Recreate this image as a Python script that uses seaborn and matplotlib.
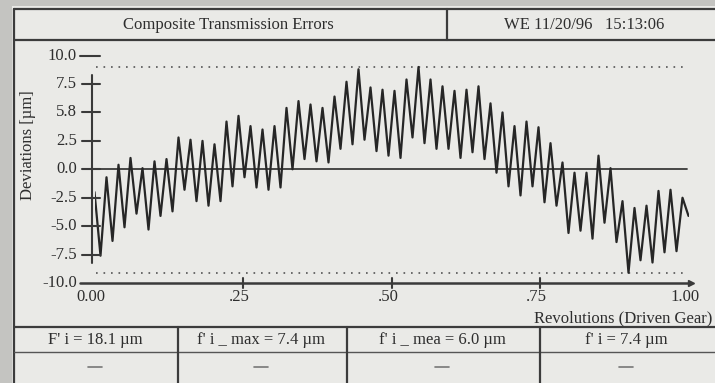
import numpy as np
import pandas as pd
import seaborn as sns
import matplotlib.pyplot as plt

# Peak and trough values of the trace [um]
peaks = [-2.0, -0.7, 0.4, 1.0, 0.1, 0.7, 0.9, 2.8, 2.6, 2.5,
         2.2, 4.2, 4.7, 3.8, 3.5, 3.8, 5.4, 6.0, 5.7, 5.4,
         6.4, 7.7, 8.8, 7.2, 7.0, 6.9, 7.9, 9.0, 7.9, 7.3,
         6.9, 7.0, 7.3, 5.8, 5.0, 3.8, 4.2, 3.7, 2.3, 0.6,
         -0.3, -0.3, 1.2, 0.1, -2.8, -3.4, -3.2, -1.9, -1.8, -2.5]
troughs = [-7.6, -6.3, -5.1, -3.9, -5.3, -4.1, -3.7, -1.8, -2.8, -3.2,
           -2.8, -1.5, -0.7, -1.6, -1.8, -1.6, 0.0, 0.9, 0.7, 0.6,
           1.8, 2.2, 2.6, 1.6, 1.2, 1.0, 2.8, 2.3, 1.8, 1.8,
           1.0, 1.5, 0.9, -0.3, -1.5, -2.3, -1.5, -2.9, -3.2, -5.6,
           -5.4, -6.1, -4.7, -6.4, -9.1, -8.0, -8.2, -7.3, -7.2]
end_value = -4.1

upper_limit = 9.0
lower_limit = -9.1

y_ticks = [10.0, 7.5, 5.0, 2.5, 0.0, -2.5, -5.0, -7.5, -10.0]
y_tick_labels = ["10.0", "7.5", "5.8", "2.5", "0.0", "-2.5", "-5.0", "-7.5", "-10.0"]
x_ticks = [0.0, 0.25, 0.5, 0.75, 1.0]
x_tick_labels = ["0.00", ".25", ".50", ".75", "1.00"]

title = "Composite Transmission Errors"
stamp = "WE 11/20/96   15:13:06"
results = ["F' i = 18.1 \u00b5m", "f' i _ max = 7.4 \u00b5m",
           "f' i _ mea = 6.0 \u00b5m", "f' i = 7.4 \u00b5m"]

# build the trace: peak, trough, peak, ... sampled evenly over one revolution
values = []
for i, p in enumerate(peaks):
    values.append(p)
    if i < len(troughs):
        values.append(troughs[i])
values.append(end_value)
df = pd.DataFrame({"rev": np.linspace(0, 1, len(values)), "dev": values})

sns.set_style("white")
plt.rcParams['font.family'] = ['Liberation Serif', 'DejaVu Serif']

ink = "#2e2e2e"
paper = "#eaeae7"
W, H = 715, 383

fig = plt.figure(figsize=(W / 100, H / 100), dpi=100)
fig.patch.set_facecolor("#c4c4c1")

# page, header and table in pixel coordinates
bg = fig.add_axes([0, 0, 1, 1], zorder=0)
bg.set_xlim(0, W)
bg.set_ylim(H, 0)
bg.axis("off")
bg.add_patch(plt.Rectangle((12, 6), W - 12, H - 6, color=paper, lw=0))
lk = dict(color="#3c3c3c", lw=1.6)
bg.plot([14, W], [9, 9], **lk)
bg.plot([14, 14], [9, H], **lk)
bg.plot([14, W], [40, 40], **lk)
bg.plot([447, 447], [9, 40], **lk)
bg.plot([14, W], [327, 327], **lk)
bg.plot([14, W], [352, 352], lw=1.0, color="#555555")
for xc in [178, 347, 540]:
    bg.plot([xc, xc], [327, H], **lk)
bg.text(228, 25, title, ha="center", va="center", fontsize=12, color=ink)
bg.text(584, 25, stamp, ha="center", va="center", fontsize=12, color=ink)
for xc, txt in zip([95, 261, 442, 626], results):
    bg.text(xc, 340, txt, ha="center", va="center", fontsize=12, color=ink)
    bg.plot([xc - 7, xc + 7], [367, 367], color="#777777", lw=1.2)

# chart
ax = fig.add_axes([94.5 / W, 1 - 283 / H, 594 / W, 227.4 / H], zorder=1)
ax.set_facecolor("none")
ax.set_xlim(0, 1)
ax.set_ylim(-10, 10)
ax.axis("off")

ax.axhline(0, xmin=-0.006, xmax=0.9975, color="#3a3a3a", lw=1.3, clip_on=False)
for lim in [upper_limit, lower_limit]:
    ax.plot([0.002, 0.9975], [lim, lim], color="#555555", lw=1.2,
            linestyle=(0, (1, 3.5)), clip_on=False)

sns.lineplot(data=df, x="rev", y="dev", ax=ax, color="#262626", lw=1.6,
             legend=False, solid_joinstyle="round")

# axes drawn like the instrument printout
ax.plot([-0.005, -0.005], [-8.2, 8.3], color="#3a3a3a", lw=1.5, clip_on=False)
for yt in y_ticks:
    if abs(yt) < 10:
        ax.plot([-0.021, 0.009], [yt, yt], color="#3a3a3a", lw=1.5, clip_on=False)
ax.plot([-0.024, 0.009], [10, 10], color="#3a3a3a", lw=1.5, clip_on=False)
ax.plot([-0.024, 1.003], [-10, -10], color="#3a3a3a", lw=1.8, clip_on=False)
ax.plot([1.004], [-10], marker=">", ms=5, color="#3a3a3a", clip_on=False)
for xt in x_ticks[1:-1]:
    ax.plot([xt, xt], [-10.4, -9.6], color="#3a3a3a", lw=1.5, clip_on=False)

for yt, lab in zip(y_ticks, y_tick_labels):
    ax.text(-0.03, yt, lab, ha="right", va="center", fontsize=12, color=ink)
for xt, lab in zip(x_ticks, x_tick_labels):
    ax.text(xt - 0.006, -11.25, lab, ha="center", va="center", fontsize=12, color=ink)
ax.text(-0.112, 2.1, "Deviations [\u00b5m]", rotation=90, ha="center", va="center",
        fontsize=12, color=ink)
ax.text(1.04, -13.15, "Revolutions (Driven Gear)", ha="right", va="center",
        fontsize=12, color=ink)

fig.savefig("out.png", dpi=100, facecolor=fig.get_facecolor())
